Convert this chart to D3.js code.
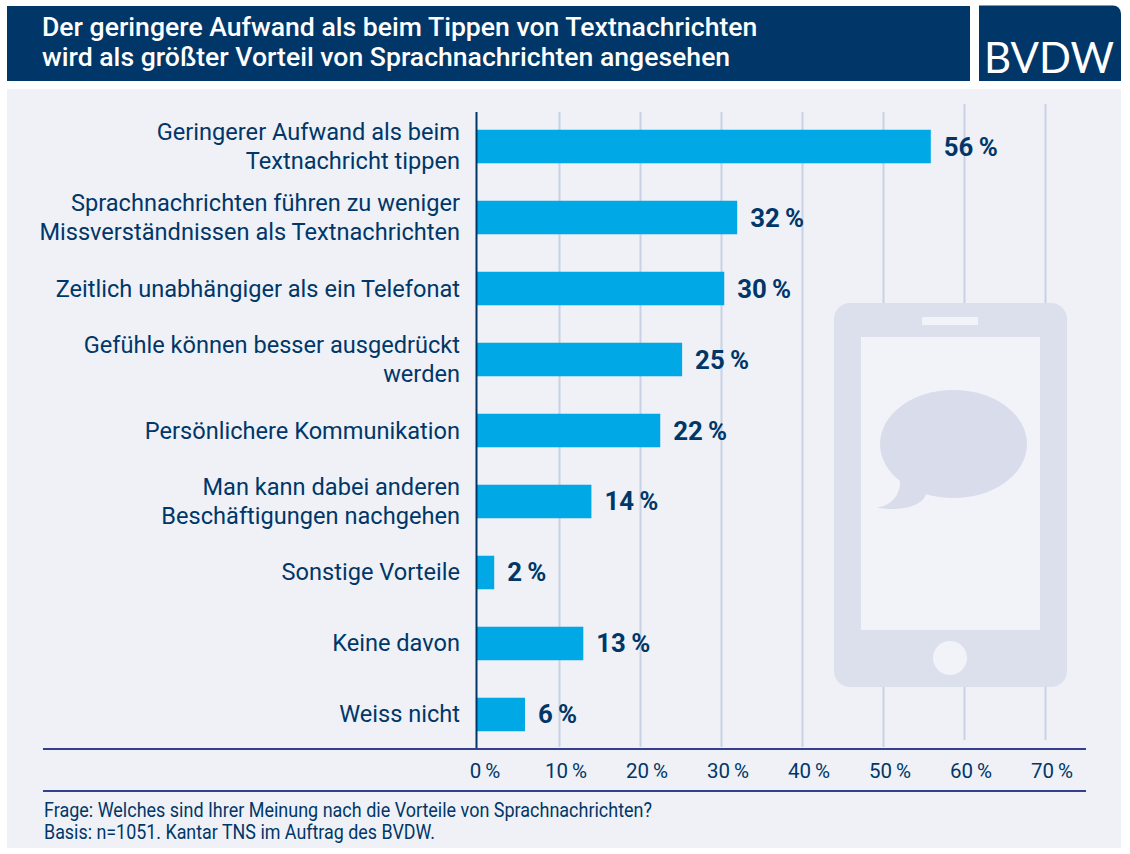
<!DOCTYPE html>
<html lang="de"><head><meta charset="utf-8">
<script src="https://cdn.jsdelivr.net/npm/d3@7/dist/d3.min.js"></script>
<style>html,body{margin:0;background:#fff}svg{display:block;font-family:Roboto,sans-serif}</style>
</head><body><svg id="c" width="1130" height="854"></svg>
<script>
const titleLines = ["Der geringere Aufwand als beim Tippen von Textnachrichten","wird als größter Vorteil von Sprachnachrichten angesehen"];
const categories = [
  ["Geringerer Aufwand als beim","Textnachricht tippen"],
  ["Sprachnachrichten führen zu weniger","Missverständnissen als Textnachrichten"],
  ["Zeitlich unabhängiger als ein Telefonat"],
  ["Gefühle können besser ausgedrückt","werden"],
  ["Persönlichere Kommunikation"],
  ["Man kann dabei anderen","Beschäftigungen nachgehen"],
  ["Sonstige Vorteile"],
  ["Keine davon"],
  ["Weiss nicht"]];
const values = [56,32,30,25,22,14,2,13,6];
const barValues = [55.9,32,30.4,25.2,22.5,14,2,13,5.8];
const ticks = [0,10,20,30,40,50,60,70];
const notes = ["Frage: Welches sind Ihrer Meinung nach die Vorteile von Sprachnachrichten?","Basis: n=1051. Kantar TNS im Auftrag des BVDW."];

const navy="#003768", svg=d3.select("#c");
const x=d3.scaleLinear().domain([0,70]).range([478,1045]);
const y=d3.scaleBand().domain(d3.range(values.length)).range([129.75,731.25]).paddingInner(.528).paddingOuter(0);
const axisX=476.5;

svg.append("rect").attr("x",7).attr("y",6).attr("width",963).attr("height",75).attr("fill",navy);
svg.append("path").attr("d","M979 5.5H1113a8 8 0 0 1 8 8V81H979Z").attr("fill",navy);
svg.append("text").attr("x",984).attr("y",73).attr("fill","#fff").attr("font-family","Lato").attr("font-weight",400)
  .attr("font-size",42).attr("textLength",130).attr("lengthAdjust","spacingAndGlyphs").text("BVDW");
svg.append("g").selectAll("text").data(titleLines).join("text").attr("x",42).attr("y",(d,i)=>36+i*30)
  .attr("fill","#fff").attr("font-size",26.6).attr("font-weight",500).text(d=>d);

svg.append("rect").attr("x",7).attr("y",89).attr("width",1114).attr("height",759).attr("fill","#eff1f7");

// grid
const gridAxis=d3.axisBottom(x).tickValues(ticks.slice(1)).tickFormat("").tickSizeOuter(0);
const grid=svg.append("g").attr("transform","translate(0,112)").call(gridAxis.tickSize(635));
grid.select(".domain").remove();
grid.selectAll("line").attr("stroke","#c8d2e4").attr("stroke-width",2)
  .attr("y1",d=>d>=60?-8:0).attr("y2",d=>d>=60?628:635);

// phone
const fillP="#dce0ed", bgP="#f1f3f9";
const phone=svg.append("g");
phone.append("rect").attr("x",834).attr("y",303).attr("width",233).attr("height",384).attr("rx",16).attr("fill",fillP);
phone.append("rect").attr("x",861).attr("y",337).attr("width",179).attr("height",293).attr("fill",bgP);
phone.append("rect").attr("x",922).attr("y",317).attr("width",56).attr("height",8).attr("fill",bgP);
phone.append("circle").attr("cx",950).attr("cy",658).attr("r",17).attr("fill",bgP);
phone.append("ellipse").attr("cx",953.5).attr("cy",444).attr("rx",73.5).attr("ry",54).attr("fill","#d9ddeb");
phone.append("path").attr("d","M900 480C901 494 892 506 877 507.5C892 511 922 509 926 494Z").attr("fill","#d9ddeb");

// bars
svg.append("g").selectAll("rect").data(barValues).join("rect")
  .attr("x",axisX).attr("y",(d,i)=>y(i)).attr("width",d=>x(d)-axisX).attr("height",y.bandwidth()).attr("fill","#00a8e6");

// zero axis and rules
svg.append("line").attr("x1",axisX).attr("x2",axisX).attr("y1",112).attr("y2",748).attr("stroke",navy).attr("stroke-width",2);
svg.append("g").selectAll("line").data([749,791]).join("line").attr("x1",43).attr("x2",1086).attr("y1",d=>d).attr("y2",d=>d)
  .attr("stroke","#333f8f").attr("stroke-width",2);

// category labels
const lh=29.5;
const lab=svg.append("g").selectAll("text").data(categories).join("text")
  .attr("text-anchor","end").attr("fill",navy).attr("font-size",23.6);
lab.each(function(lines,i){
  const cy=y(i)+y.bandwidth()/2;
  d3.select(this).selectAll("tspan").data(lines).join("tspan").attr("x",460)
    .attr("y",(l,j)=>cy+8-(lines.length-1)*lh/2+j*lh).text(l=>l);
});

// value labels
svg.append("g").selectAll("text").data(values).join("text")
  .attr("x",(d,i)=>x(barValues[i])+13).attr("y",(d,i)=>y(i)+y.bandwidth()/2+9)
  .attr("fill",navy).attr("font-size",25.8).attr("font-weight",700).text(d=>d+"\u2009%");

// tick labels
const tickG=svg.append("g").attr("transform","translate(0,749)")
  .call(d3.axisBottom(x).tickValues(ticks).tickSize(0).tickPadding(14).tickFormat(d=>d+"\u2009%"));
tickG.select(".domain").remove();
tickG.selectAll("text").attr("font-family","Roboto").attr("font-size",20.5).attr("fill",navy).attr("dx",6.5);

// notes
const noteLen=[608,391];
svg.append("g").selectAll("text").data(notes).join("text").attr("x",44).attr("y",(d,i)=>817+i*22)
  .attr("fill",navy).attr("font-size",20).attr("textLength",(d,i)=>noteLen[i]).attr("lengthAdjust","spacingAndGlyphs").text(d=>d);
</script></body></html>
